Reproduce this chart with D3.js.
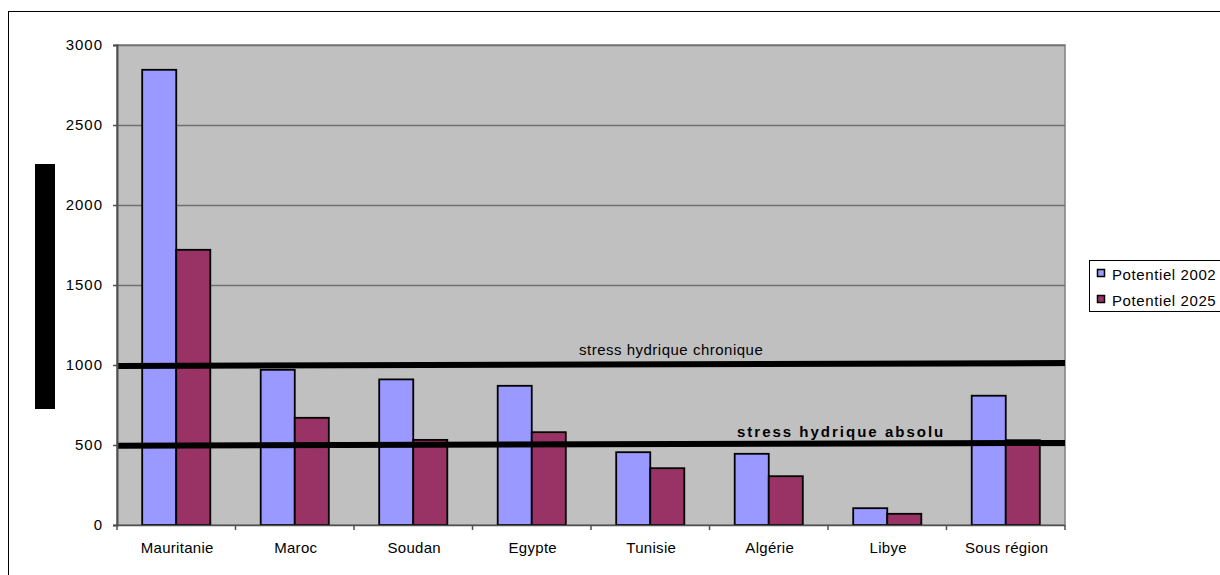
<!DOCTYPE html>
<html>
<head>
<meta charset="utf-8">
<script src="https://cdn.jsdelivr.net/npm/d3@7"></script>
<style>
  html, body { margin: 0; padding: 0; background: #ffffff; }
  svg { display: block; font-family: "Liberation Sans", Arial, sans-serif; }
</style>
</head>
<body>
<svg id="chart" width="1220" height="575"></svg>
<script>
// Potentiel en eau renouvelable par habitant (m3/hab/an)
const categories = ["Mauritanie", "Maroc", "Soudan", "Egypte", "Tunisie", "Algérie", "Libye", "Sous région"];
const seriesNames = ["Potentiel 2002", "Potentiel 2025"];
const potentiel2002 = [2845, 970, 910, 870, 455, 445, 105, 808];
const potentiel2025 = [1720, 670, 532, 580, 355, 305, 70, 530];
const seriesColors = ["#9999FF", "#993366"];
const yTicks = [0, 500, 1000, 1500, 2000, 2500, 3000];

// Seuils de stress hydrique (valeur au début et à la fin du tracé)
const thresholdNames = ["stress hydrique chronique", "stress hydrique absolu"];
const thresholdStart = [994, 496];
const thresholdEnd = [1012, 513];

const svg = d3.select("#chart");

const plot = { left: 117, right: 1065, top: 45, bottom: 525 };

const y = d3.scaleLinear().domain([0, 3000]).range([plot.bottom, plot.top]);
const x = d3.scaleBand().domain(categories).range([plot.left, plot.right]).padding(0);
const xs = d3.scaleBand().domain(seriesNames).range([0, x.bandwidth()])
  .paddingInner(0).paddingOuter(0.74);

// Outer frame
svg.append("rect")
  .attr("x", 8.5).attr("y", 11.5).attr("width", 1240).attr("height", 620)
  .attr("fill", "none").attr("stroke", "#000").attr("stroke-width", 1);

// Plot background
svg.append("rect")
  .attr("x", plot.left).attr("y", plot.top)
  .attr("width", plot.right - plot.left).attr("height", plot.bottom - plot.top)
  .attr("fill", "#C0C0C0").attr("stroke", "#808080").attr("stroke-width", 1.5);

// Horizontal gridlines
svg.append("g").selectAll("line")
  .data(yTicks.filter(d => d > 0))
  .join("line")
  .attr("x1", plot.left).attr("x2", plot.right)
  .attr("y1", d => y(d) + 0.5).attr("y2", d => y(d) + 0.5)
  .attr("stroke", "#707070").attr("stroke-width", 1.3);

// Bars
const rows = categories.map((c, i) => ({ cat: c, values: [potentiel2002[i], potentiel2025[i]] }));
const groups = svg.append("g").selectAll("g")
  .data(rows)
  .join("g")
  .attr("transform", d => `translate(${x(d.cat)},0)`);

groups.selectAll("rect")
  .data(d => d.values.map((v, j) => ({ name: seriesNames[j], value: v, j })))
  .join("rect")
  .attr("x", d => xs(d.name))
  .attr("y", d => y(d.value))
  .attr("width", xs.bandwidth())
  .attr("height", d => y(0) - y(d.value))
  .attr("fill", d => seriesColors[d.j])
  .attr("stroke", "#000").attr("stroke-width", 1.8);

// Threshold lines
const lineGen = d3.line().x(d => d[0]).y(d => y(d[1]));
thresholdNames.forEach((name, i) => {
  svg.append("path")
    .attr("d", lineGen([[plot.left, thresholdStart[i]], [plot.right, thresholdEnd[i]]]))
    .attr("stroke", "#000").attr("stroke-width", 6).attr("fill", "none");
});

// Threshold labels
svg.append("text")
  .attr("x", 579).attr("y", 355)
  .attr("font-size", 15).attr("letter-spacing", 0.5).attr("fill", "#000")
  .text(thresholdNames[0]);
svg.append("text")
  .attr("x", 737).attr("y", 437)
  .attr("font-size", 15).attr("font-weight", "bold").attr("letter-spacing", 2).attr("fill", "#000")
  .text(thresholdNames[1]);

// Y axis
const yAxis = svg.append("g")
  .attr("transform", `translate(${plot.left},0)`)
  .call(d3.axisLeft(y).tickValues(yTicks).tickSize(4).tickPadding(10).tickFormat(d3.format("d")));
yAxis.select(".domain").attr("stroke", "#505050").attr("stroke-width", 2);
yAxis.selectAll(".tick line").attr("stroke", "#505050").attr("stroke-width", 1.5);
yAxis.selectAll(".tick text")
  .attr("font-size", 15).attr("letter-spacing", 1).attr("fill", "#000")
  .attr("font-family", "Liberation Sans, Arial, sans-serif");

// X axis line and boundary ticks
svg.append("line")
  .attr("x1", plot.left).attr("x2", plot.right)
  .attr("y1", plot.bottom + 0.5).attr("y2", plot.bottom + 0.5)
  .attr("stroke", "#505050").attr("stroke-width", 1.5);
const boundaries = categories.map(c => x(c)).concat([x(categories[categories.length - 1]) + x.bandwidth()]);
svg.append("g").selectAll("line")
  .data(boundaries)
  .join("line")
  .attr("x1", d => d).attr("x2", d => d)
  .attr("y1", plot.bottom).attr("y2", plot.bottom + 5)
  .attr("stroke", "#505050").attr("stroke-width", 1.5);

// Category labels
svg.append("g").selectAll("text")
  .data(categories)
  .join("text")
  .attr("x", d => x(d) + x.bandwidth() / 2 + 1)
  .attr("y", 553)
  .attr("text-anchor", "middle")
  .attr("font-size", 15).attr("letter-spacing", 0.3).attr("fill", "#000")
  .text(d => d);

// Y axis title block
svg.append("rect")
  .attr("x", 35).attr("y", 164).attr("width", 20).attr("height", 245)
  .attr("fill", "#000");

// Legend
const legend = svg.append("g");
legend.append("rect")
  .attr("x", 1089.5).attr("y", 260.5).attr("width", 150).attr("height", 51)
  .attr("fill", "#fff").attr("stroke", "#000").attr("stroke-width", 1);
seriesNames.forEach((name, i) => {
  const cy = 274 + i * 26;
  legend.append("rect")
    .attr("x", 1097.5).attr("y", cy - 4.5).attr("width", 7).attr("height", 7)
    .attr("fill", seriesColors[i]).attr("stroke", "#000").attr("stroke-width", 1.5);
  legend.append("text")
    .attr("x", 1112).attr("y", cy + 5.5)
    .attr("font-size", 15).attr("letter-spacing", 0.6).attr("fill", "#000")
    .text(name);
});
</script>
</body>
</html>
